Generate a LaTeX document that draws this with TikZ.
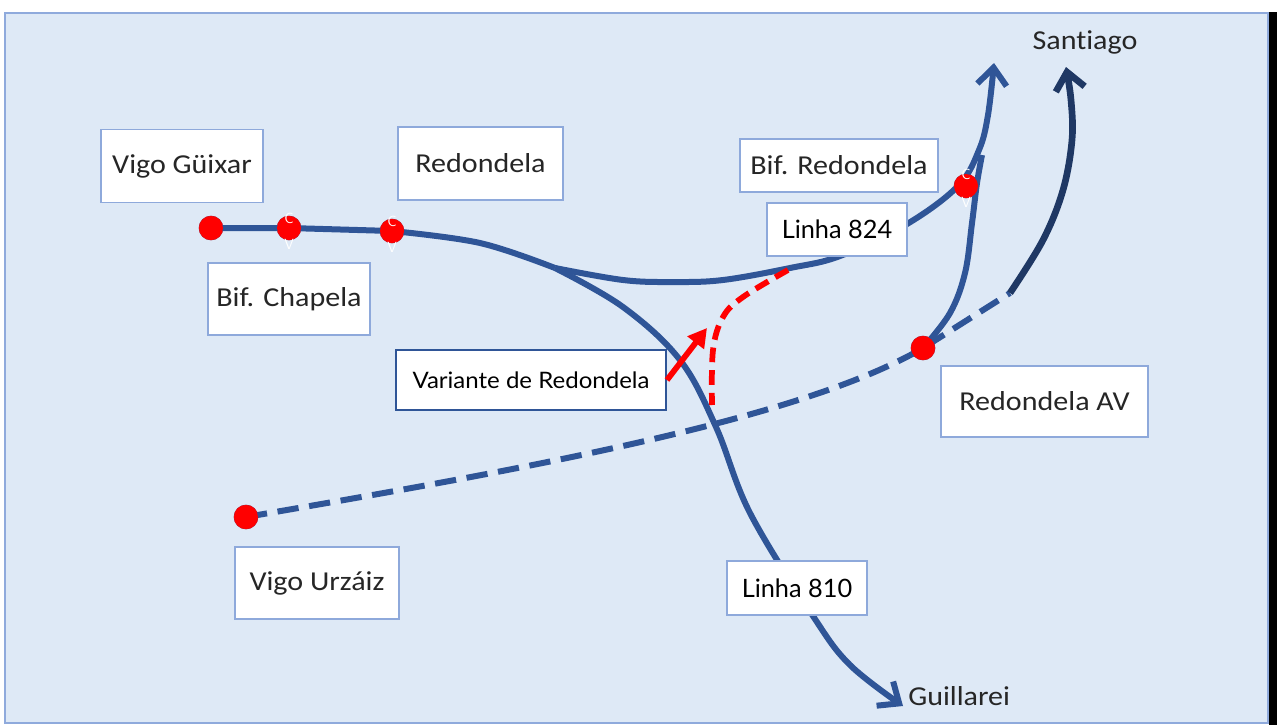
\documentclass[tikz,border=0pt]{standalone}
\usepackage{fontspec}
\setmainfont{Carlito}[FakeStretch=1.1, Ligatures=NoCommon]
\newfontfamily\apt{Lato}[FakeStretch=1.06]
\newfontfamily\aptn{Lato}
\usetikzlibrary{arrows.meta}
\definecolor{bgblue}{HTML}{DEE9F6}
\definecolor{frameblue}{HTML}{8FAADC}
\definecolor{linblue}{HTML}{2F5597}
\definecolor{navyblue}{HTML}{1F3864}
\definecolor{boxedge}{HTML}{8EA9DB}
\definecolor{txtgray}{HTML}{262626}
\definecolor{dotred}{HTML}{FF0000}
\begin{document}
\begin{tikzpicture}[x=0.75pt,y=-0.75pt,
  lbl/.style={draw=boxedge, line width=1.1pt, fill=white, inner sep=0pt, text=txtgray,
    font=\fontsize{20.5}{24}\selectfont},
  lblb/.style={lbl, text=black, font=\aptn\fontsize{19}{22}\selectfont},
  stn/.style={circle, fill=dotred, draw=linblue!50!dotred, line width=0.5pt, minimum size=18pt, inner sep=0pt},
  trk/.style={draw=linblue, line width=4.5pt},
  dtrk/.style={trk, dash pattern=on 16pt off 8pt},
  rtrk/.style={draw=dotred, line width=4.3pt, dash pattern=on 11pt off 6pt},
  barb/.style={-{Straight Barb[length=13pt, width=22pt]}},
  tinymark/.style={text=white, font=\sffamily\fontsize{11}{11}\selectfont, inner sep=0pt},
  place/.style={text=txtgray, font=\fontsize{20.5}{24}\selectfont, inner sep=0pt}
]
\useasboundingbox (0,0) rectangle (1277,725);
\fill[white] (0,0) rectangle (1277,725);
\filldraw[fill=bgblue, draw=frameblue, line width=1.5pt] (5,12.5) rectangle (1268,723);
\fill[black] (1269,12) rectangle (1277,725);

% stations (nodes)
\node[stn] (vg) at (211,228) {};
\node[stn] (bc) at (289,228) {};
\node[stn] (rd) at (392,231) {};
\node[stn] (br) at (966,186) {};
\node[stn] (rav) at (923,348) {};
\node[stn] (vu) at (246,517) {};
\coordinate (J) at (555,268);
\coordinate (E) at (1010,293);
\coordinate (T1) at (994,63);
\coordinate (T2) at (1066,67);
\coordinate (G) at (903,706);
\coordinate (RT) at (982,155);

% tracks
\draw[dtrk] (vu.center) .. controls (520,470) and (800,420) .. (rav.center) -- (E);
\draw[trk] (vg.center) -- (bc.center) -- (rd.center);
\draw[trk] plot[smooth, tension=0.6] coordinates {(rd.center) (480,243) (J)};
\draw[trk, barb] plot[smooth, tension=0.6] coordinates {(J) (623,307) (680,360) (716,427) (750,513) (813,616) (850,665) (G)};
\draw[trk, barb] plot[smooth, tension=0.6] coordinates {(J) (623,280) (673,282) (723,280) (790,268) (840,256) (907,224) (958,186) (979,150) (988,115) (T1)};
\draw[trk] plot[smooth, tension=0.6] coordinates {(rav.center) (950,313) (965,273) (972,223) (977,183) (RT)};
\draw[draw=navyblue, line width=5pt, -{Straight Barb[length=13pt, width=22pt]}] plot[smooth, tension=0.6] coordinates {(E) (1043,240) (1063,190) (1072,140) (1071,100) (T2)};
\draw[rtrk] plot[smooth, tension=0.6] coordinates {(788,270) (743,297) (723,317) (713,350) (712,405)};

% redraw dots on top
\foreach \s in {vg,bc,rd,br,rav,vu} {\fill[dotred] (\s) circle (9pt);}

% small marks
\node[tinymark] (m1) at (289,218) {C};
\node[tinymark] (m2) at (289,244) {V};
\node[tinymark] (m3) at (392,221) {C};
\node[tinymark] (m4) at (392,247) {V};
\node[tinymark] (m5) at (966,174) {C};
\node[tinymark] (m6) at (966,202) {V};

% labels
\node[lbl, minimum width=121.5pt, minimum height=54.75pt] (lvg) at (182,166) {Vigo Güixar};
\node[lbl, minimum width=123.75pt, minimum height=54.75pt] (lrd) at (480.5,163.5) {Redondela};
\node[lbl, minimum width=121.5pt, minimum height=54pt] (lbc) at (289,299) {Bif. Chapela};
\node[lbl, minimum width=148.5pt, minimum height=39.75pt] (lbr) at (839,165.5) {Bif. Redondela};
\node[lblb, minimum width=105pt, minimum height=39.75pt] (l824) at (837,229.5) {Linha 824};
\node[lblb, draw=linblue, line width=1.5pt, font=\apt\fontsize{17}{20}\selectfont, minimum width=202.5pt, minimum height=45pt] (lvar) at (531,380) {Variante de Redondela};
\node[lbl, minimum width=155.25pt, minimum height=53.25pt] (lrav) at (1044.5,401.5) {Redondela AV};
\node[lbl, minimum width=123pt, minimum height=54pt] (lvu) at (317,583) {Vigo Urzáiz};
\node[lblb, minimum width=105pt, minimum height=40.5pt] (l810) at (797,588) {Linha 810};
\node[place] (san) at (1085,42) {Santiago};
\node[place, anchor=west] (gui) at (908,696) {Guillarei};

% red arrow
\draw[draw=dotred, line width=4.3pt, -{Triangle[length=14pt, width=15pt]}] (lvar.east) -- (707,328);
\end{tikzpicture}
\end{document}
